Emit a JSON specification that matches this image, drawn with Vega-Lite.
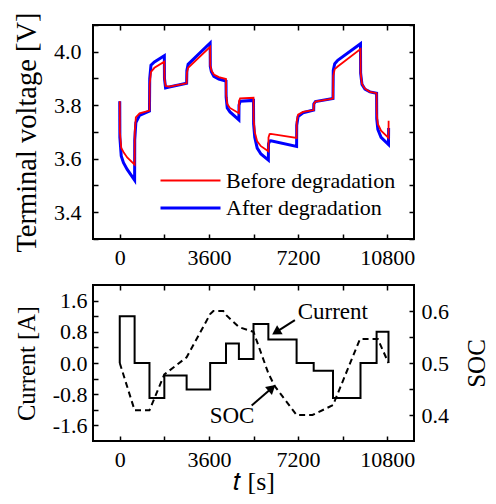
{
  "$schema": "https://vega.github.io/schema/vega-lite/v6.json",
  "padding": {"left": 11, "top": 10, "right": 0, "bottom": 0},
  "background": "white",
  "bounds": "flush",
  "spacing": 46,
  "datasets": {
    "volt": [
      {"t": 0, "v": 3.815, "s": "Before degradation"},
      {"t": 5, "v": 3.70, "s": "Before degradation"},
      {"t": 60, "v": 3.64, "s": "Before degradation"},
      {"t": 150, "v": 3.625, "s": "Before degradation"},
      {"t": 300, "v": 3.605, "s": "Before degradation"},
      {"t": 600, "v": 3.578, "s": "Before degradation"},
      {"t": 605, "v": 3.70, "s": "Before degradation"},
      {"t": 650, "v": 3.755, "s": "Before degradation"},
      {"t": 800, "v": 3.77, "s": "Before degradation"},
      {"t": 1200, "v": 3.78, "s": "Before degradation"},
      {"t": 1210, "v": 3.88, "s": "Before degradation"},
      {"t": 1260, "v": 3.925, "s": "Before degradation"},
      {"t": 1400, "v": 3.94, "s": "Before degradation"},
      {"t": 1800, "v": 3.963, "s": "Before degradation"},
      {"t": 1805, "v": 3.90, "s": "Before degradation"},
      {"t": 1850, "v": 3.872, "s": "Before degradation"},
      {"t": 2000, "v": 3.870, "s": "Before degradation"},
      {"t": 2700, "v": 3.882, "s": "Before degradation"},
      {"t": 2710, "v": 3.92, "s": "Before degradation"},
      {"t": 2760, "v": 3.94, "s": "Before degradation"},
      {"t": 3650, "v": 4.018, "s": "Before degradation"},
      {"t": 3655, "v": 3.95, "s": "Before degradation"},
      {"t": 3700, "v": 3.93, "s": "Before degradation"},
      {"t": 3800, "v": 3.915, "s": "Before degradation"},
      {"t": 4000, "v": 3.905, "s": "Before degradation"},
      {"t": 4290, "v": 3.898, "s": "Before degradation"},
      {"t": 4295, "v": 3.84, "s": "Before degradation"},
      {"t": 4340, "v": 3.805, "s": "Before degradation"},
      {"t": 4450, "v": 3.79, "s": "Before degradation"},
      {"t": 4810, "v": 3.77, "s": "Before degradation"},
      {"t": 4815, "v": 3.815, "s": "Before degradation"},
      {"t": 4860, "v": 3.826, "s": "Before degradation"},
      {"t": 5400, "v": 3.828, "s": "Before degradation"},
      {"t": 5405, "v": 3.75, "s": "Before degradation"},
      {"t": 5450, "v": 3.70, "s": "Before degradation"},
      {"t": 5550, "v": 3.665, "s": "Before degradation"},
      {"t": 5700, "v": 3.647, "s": "Before degradation"},
      {"t": 6000, "v": 3.628, "s": "Before degradation"},
      {"t": 6005, "v": 3.68, "s": "Before degradation"},
      {"t": 6050, "v": 3.692, "s": "Before degradation"},
      {"t": 6100, "v": 3.693, "s": "Before degradation"},
      {"t": 7140, "v": 3.678, "s": "Before degradation"},
      {"t": 7145, "v": 3.74, "s": "Before degradation"},
      {"t": 7200, "v": 3.765, "s": "Before degradation"},
      {"t": 7400, "v": 3.775, "s": "Before degradation"},
      {"t": 7830, "v": 3.782, "s": "Before degradation"},
      {"t": 7835, "v": 3.805, "s": "Before degradation"},
      {"t": 7900, "v": 3.814, "s": "Before degradation"},
      {"t": 8610, "v": 3.825, "s": "Before degradation"},
      {"t": 8620, "v": 3.91, "s": "Before degradation"},
      {"t": 8680, "v": 3.935, "s": "Before degradation"},
      {"t": 8800, "v": 3.945, "s": "Before degradation"},
      {"t": 9720, "v": 4.010, "s": "Before degradation"},
      {"t": 9725, "v": 3.92, "s": "Before degradation"},
      {"t": 9780, "v": 3.88, "s": "Before degradation"},
      {"t": 9900, "v": 3.862, "s": "Before degradation"},
      {"t": 10100, "v": 3.85, "s": "Before degradation"},
      {"t": 10370, "v": 3.845, "s": "Before degradation"},
      {"t": 10375, "v": 3.77, "s": "Before degradation"},
      {"t": 10420, "v": 3.73, "s": "Before degradation"},
      {"t": 10550, "v": 3.705, "s": "Before degradation"},
      {"t": 10850, "v": 3.678, "s": "Before degradation"},
      {"t": 10855, "v": 3.742, "s": "Before degradation"},
      {"t": 0, "v": 3.815, "s": "After degradation"},
      {"t": 5, "v": 3.68, "s": "After degradation"},
      {"t": 60, "v": 3.61, "s": "After degradation"},
      {"t": 150, "v": 3.585, "s": "After degradation"},
      {"t": 300, "v": 3.56, "s": "After degradation"},
      {"t": 600, "v": 3.52, "s": "After degradation"},
      {"t": 605, "v": 3.67, "s": "After degradation"},
      {"t": 650, "v": 3.735, "s": "After degradation"},
      {"t": 800, "v": 3.762, "s": "After degradation"},
      {"t": 1200, "v": 3.778, "s": "After degradation"},
      {"t": 1210, "v": 3.90, "s": "After degradation"},
      {"t": 1260, "v": 3.95, "s": "After degradation"},
      {"t": 1400, "v": 3.962, "s": "After degradation"},
      {"t": 1800, "v": 3.985, "s": "After degradation"},
      {"t": 1805, "v": 3.90, "s": "After degradation"},
      {"t": 1850, "v": 3.865, "s": "After degradation"},
      {"t": 2000, "v": 3.868, "s": "After degradation"},
      {"t": 2700, "v": 3.882, "s": "After degradation"},
      {"t": 2710, "v": 3.93, "s": "After degradation"},
      {"t": 2760, "v": 3.953, "s": "After degradation"},
      {"t": 3650, "v": 4.033, "s": "After degradation"},
      {"t": 3655, "v": 3.945, "s": "After degradation"},
      {"t": 3700, "v": 3.925, "s": "After degradation"},
      {"t": 3800, "v": 3.908, "s": "After degradation"},
      {"t": 4000, "v": 3.898, "s": "After degradation"},
      {"t": 4290, "v": 3.89, "s": "After degradation"},
      {"t": 4295, "v": 3.83, "s": "After degradation"},
      {"t": 4340, "v": 3.79, "s": "After degradation"},
      {"t": 4450, "v": 3.775, "s": "After degradation"},
      {"t": 4810, "v": 3.745, "s": "After degradation"},
      {"t": 4815, "v": 3.80, "s": "After degradation"},
      {"t": 4860, "v": 3.815, "s": "After degradation"},
      {"t": 5400, "v": 3.818, "s": "After degradation"},
      {"t": 5405, "v": 3.73, "s": "After degradation"},
      {"t": 5450, "v": 3.68, "s": "After degradation"},
      {"t": 5550, "v": 3.64, "s": "After degradation"},
      {"t": 5700, "v": 3.618, "s": "After degradation"},
      {"t": 6000, "v": 3.595, "s": "After degradation"},
      {"t": 6005, "v": 3.655, "s": "After degradation"},
      {"t": 6050, "v": 3.666, "s": "After degradation"},
      {"t": 6100, "v": 3.667, "s": "After degradation"},
      {"t": 7140, "v": 3.646, "s": "After degradation"},
      {"t": 7145, "v": 3.725, "s": "After degradation"},
      {"t": 7200, "v": 3.758, "s": "After degradation"},
      {"t": 7400, "v": 3.772, "s": "After degradation"},
      {"t": 7830, "v": 3.782, "s": "After degradation"},
      {"t": 7835, "v": 3.805, "s": "After degradation"},
      {"t": 7900, "v": 3.814, "s": "After degradation"},
      {"t": 8610, "v": 3.825, "s": "After degradation"},
      {"t": 8620, "v": 3.93, "s": "After degradation"},
      {"t": 8680, "v": 3.955, "s": "After degradation"},
      {"t": 8800, "v": 3.968, "s": "After degradation"},
      {"t": 9720, "v": 4.030, "s": "After degradation"},
      {"t": 9725, "v": 3.92, "s": "After degradation"},
      {"t": 9780, "v": 3.878, "s": "After degradation"},
      {"t": 9900, "v": 3.86, "s": "After degradation"},
      {"t": 10100, "v": 3.85, "s": "After degradation"},
      {"t": 10370, "v": 3.845, "s": "After degradation"},
      {"t": 10375, "v": 3.75, "s": "After degradation"},
      {"t": 10420, "v": 3.71, "s": "After degradation"},
      {"t": 10550, "v": 3.68, "s": "After degradation"},
      {"t": 10850, "v": 3.653, "s": "After degradation"},
      {"t": 10855, "v": 3.715, "s": "After degradation"}
    ],
    "cur": [
      {"i": 0, "t": 0, "I": 0},
      {"i": 1, "t": 0, "I": 1.2},
      {"i": 2, "t": 600, "I": 0},
      {"i": 3, "t": 1200, "I": -0.9},
      {"i": 4, "t": 1800, "I": -0.32},
      {"i": 5, "t": 2700, "I": -0.68},
      {"i": 6, "t": 3650, "I": 0},
      {"i": 7, "t": 4290, "I": 0.5},
      {"i": 8, "t": 4810, "I": 0.1},
      {"i": 9, "t": 5400, "I": 1.0},
      {"i": 10, "t": 6000, "I": 0.6},
      {"i": 11, "t": 7140, "I": 0},
      {"i": 12, "t": 7830, "I": -0.2},
      {"i": 13, "t": 8610, "I": -0.9},
      {"i": 14, "t": 9720, "I": 0},
      {"i": 15, "t": 10370, "I": 0.8},
      {"i": 16, "t": 10850, "I": 0}
    ],
    "soc": [
      {"t": 0, "soc": 0.5},
      {"t": 600, "soc": 0.409},
      {"t": 1200, "soc": 0.409},
      {"t": 1800, "soc": 0.478},
      {"t": 2700, "soc": 0.511},
      {"t": 3650, "soc": 0.594},
      {"t": 3780, "soc": 0.6},
      {"t": 4180, "soc": 0.6},
      {"t": 4300, "soc": 0.592},
      {"t": 4810, "soc": 0.569},
      {"t": 5400, "soc": 0.56},
      {"t": 6000, "soc": 0.48},
      {"t": 6265, "soc": 0.455},
      {"t": 7140, "soc": 0.4},
      {"t": 7780, "soc": 0.4},
      {"t": 8610, "soc": 0.419},
      {"t": 9700, "soc": 0.546},
      {"t": 10420, "soc": 0.546},
      {"t": 10850, "soc": 0.5}
    ],
    "arrows": [
      {"name": "Current", "t": 7071, "I": 1.098, "t2": 6310, "I2": 0.79},
      {"name": "SOC", "t": 5326, "I": -1.087, "t2": 6144, "I2": -0.64}
    ],
    "heads": [
      {"name": "Current", "t": 6310, "I": 0.79},
      {"name": "SOC", "t": 6144, "I": -0.64}
    ],
    "labels": [
      {"label": "Current", "t": 8602, "I": 1.3},
      {"label": "SOC", "t": 4533, "I": -1.37}
    ]
  },
  "vconcat": [
    {
      "width": 321,
      "height": 214,
      "data": {"name": "volt"},
      "layer": [
        {
          "transform": [{"filter": "datum.s == 'After degradation'"}],
          "mark": {"type": "line"},
          "encoding": {
            "x": {"field": "t", "type": "quantitative", "scale": {"domain": [-1080, 11880], "nice": false, "zero": false},
                  "axis": {"values": [0, 1800, 3600, 5400, 7200, 9000, 10800], "labelExpr": "datum.value % 3600 == 0 ? format(datum.value, 'd') : ''", "labelPadding": 13, "title": null}},
            "y": {"field": "v", "type": "quantitative", "scale": {"domain": [3.3, 4.1], "nice": false, "zero": false},
                  "axis": {"values": [3.3, 3.4, 3.5, 3.6, 3.7, 3.8, 3.9, 4.0, 4.1], "labelExpr": "indexof(['3.4','3.6','3.8','4.0'], format(datum.value, '.1f')) >= 0 ? format(datum.value, '.1f') : ''", "labelPadding": 17, "title": "Terminal voltage [V]", "titleFontSize": 28.5, "titlePadding": 12}},
            "color": {"field": "s", "type": "nominal", "scale": {"domain": ["Before degradation", "After degradation"], "range": ["#ff0000", "#0000ff"]}, "legend": {"orient": "none", "legendX": 66, "legendY": 144.5, "title": null}},
            "strokeWidth": {"field": "s", "type": "nominal", "scale": {"domain": ["Before degradation", "After degradation"], "range": [1.8, 3]}, "legend": {"orient": "none", "legendX": 66, "legendY": 144.5, "title": null}}
          }
        },
        {
          "transform": [{"filter": "datum.s == 'Before degradation'"}],
          "mark": {"type": "line"},
          "encoding": {
            "x": {"field": "t", "type": "quantitative", "scale": {"domain": [-1080, 11880], "nice": false, "zero": false},
                  "axis": {"orient": "top", "values": [0, 1800, 3600, 5400, 7200, 9000, 10800], "labels": false, "title": null}},
            "y": {"field": "v", "type": "quantitative", "scale": {"domain": [3.3, 4.1], "nice": false, "zero": false},
                  "axis": {"orient": "right", "values": [3.3, 3.4, 3.5, 3.6, 3.7, 3.8, 3.9, 4.0, 4.1], "labels": false, "title": null}},
            "color": {"field": "s", "type": "nominal", "scale": {"domain": ["Before degradation", "After degradation"], "range": ["#ff0000", "#0000ff"]}, "legend": {"orient": "none", "legendX": 66, "legendY": 144.5, "title": null}},
            "strokeWidth": {"field": "s", "type": "nominal", "scale": {"domain": ["Before degradation", "After degradation"], "range": [1.8, 3]}, "legend": {"orient": "none", "legendX": 66, "legendY": 144.5, "title": null}}
          }
        }
      ],
      "resolve": {"axis": {"x": "independent", "y": "independent"}}
    },
    {
      "width": 321,
      "height": 156,
      "layer": [
        {
          "data": {"name": "cur"},
          "mark": {"type": "line", "interpolate": "step-after", "color": "black", "strokeWidth": 2},
          "encoding": {
            "x": {"field": "t", "type": "quantitative", "scale": {"domain": [-1080, 11880], "nice": false, "zero": false},
                  "axis": {"values": [0, 1800, 3600, 5400, 7200, 9000, 10800], "labelExpr": "datum.value % 3600 == 0 ? format(datum.value, 'd') : ''", "labelPadding": 13, "title": "𝑡 [s]", "titlePadding": -2}},
            "y": {"field": "I", "type": "quantitative", "scale": {"domain": [-2, 2], "nice": false, "zero": false},
                  "axis": {"orient": "left", "values": [-1.6, -1.2, -0.8, -0.4, 0, 0.4, 0.8, 1.2, 1.6], "labelExpr": "datum.value == 0 ? '0.0' : datum.value == 0.8 ? '0.8' : datum.value == 1.6 ? '1.6' : datum.value == -0.8 ? '-0.8' : datum.value == -1.6 ? '-1.6' : ''", "labelPadding": 11, "title": "Current [A]", "titleFontSize": 24.5, "titlePadding": 13}},
            "order": {"field": "i", "type": "quantitative"}
          }
        },
        {
          "data": {"name": "arrows"},
          "mark": {"type": "rule", "color": "black", "strokeWidth": 2},
          "encoding": {
            "x": {"field": "t", "type": "quantitative", "scale": {"domain": [-1080, 11880], "nice": false, "zero": false}, "axis": null},
            "x2": {"field": "t2"},
            "y": {"field": "I", "type": "quantitative", "scale": {"domain": [-2, 2], "nice": false, "zero": false}, "axis": null},
            "y2": {"field": "I2"}
          }
        },
        {
          "data": {"name": "heads"},
          "transform": [{"filter": "datum.name == 'Current'"}],
          "mark": {"type": "point", "shape": "triangle-right", "filled": true, "color": "black", "opacity": 1, "size": 110, "angle": 148},
          "encoding": {
            "x": {"field": "t", "type": "quantitative", "scale": {"domain": [-1080, 11880], "nice": false, "zero": false}, "axis": null},
            "y": {"field": "I", "type": "quantitative", "scale": {"domain": [-2, 2], "nice": false, "zero": false}, "axis": null}
          }
        },
        {
          "data": {"name": "heads"},
          "transform": [{"filter": "datum.name == 'SOC'"}],
          "mark": {"type": "point", "shape": "triangle-right", "filled": true, "color": "black", "opacity": 1, "size": 110, "angle": 319},
          "encoding": {
            "x": {"field": "t", "type": "quantitative", "scale": {"domain": [-1080, 11880], "nice": false, "zero": false}, "axis": null},
            "y": {"field": "I", "type": "quantitative", "scale": {"domain": [-2, 2], "nice": false, "zero": false}, "axis": null}
          }
        },
        {
          "data": {"name": "labels"},
          "mark": {"type": "text", "font": "Liberation Serif", "fontSize": 23, "color": "black"},
          "encoding": {
            "x": {"field": "t", "type": "quantitative", "scale": {"domain": [-1080, 11880], "nice": false, "zero": false}, "axis": null},
            "y": {"field": "I", "type": "quantitative", "scale": {"domain": [-2, 2], "nice": false, "zero": false}, "axis": null},
            "text": {"field": "label"}
          }
        },
        {
          "data": {"name": "soc"},
          "mark": {"type": "line", "color": "black", "strokeWidth": 2, "strokeDash": [6, 4]},
          "encoding": {
            "x": {"field": "t", "type": "quantitative", "scale": {"domain": [-1080, 11880], "nice": false, "zero": false},
                  "axis": {"orient": "top", "values": [0, 1800, 3600, 5400, 7200, 9000, 10800], "labels": false, "title": null}},
            "y": {"field": "soc", "type": "quantitative", "scale": {"domain": [0.35, 0.65], "nice": false, "zero": false},
                  "axis": {"orient": "right", "values": [0.4, 0.45, 0.5, 0.55, 0.6], "labelExpr": "indexof(['0.40','0.50','0.60'], format(datum.value, '.2f')) >= 0 ? format(datum.value, '.1f') : ''", "labelPadding": 12, "title": "SOC", "titleAngle": 270, "titleBaseline": "top", "titleFontSize": 25, "titlePadding": 16}}
          }
        }
      ],
      "resolve": {"scale": {"y": "independent"}, "axis": {"x": "independent", "y": "independent"}}
    }
  ],
  "resolve": {"legend": {"color": "independent", "strokeWidth": "independent"}},
  "config": {
    "view": {"stroke": "black", "strokeWidth": 2},
    "axis": {
      "domain": false, "grid": false,
      "tickColor": "black", "tickWidth": 1.5, "tickSize": -5,
      "labelFont": "Liberation Serif", "labelFontSize": 22, "labelColor": "black",
      "labelOverlap": false, "labelFlush": false,
      "titleFont": "Liberation Serif", "titleFontSize": 26, "titleFontWeight": "normal", "titleColor": "black"
    },
    "legend": {
      "symbolType": "stroke", "symbolSize": 3600, "clipHeight": 22,
      "labelFont": "Liberation Serif", "labelFontSize": 22, "labelColor": "black", "labelLimit": 0,
      "labelOffset": 4, "rowPadding": 5.6, "padding": 0
    }
  }
}
